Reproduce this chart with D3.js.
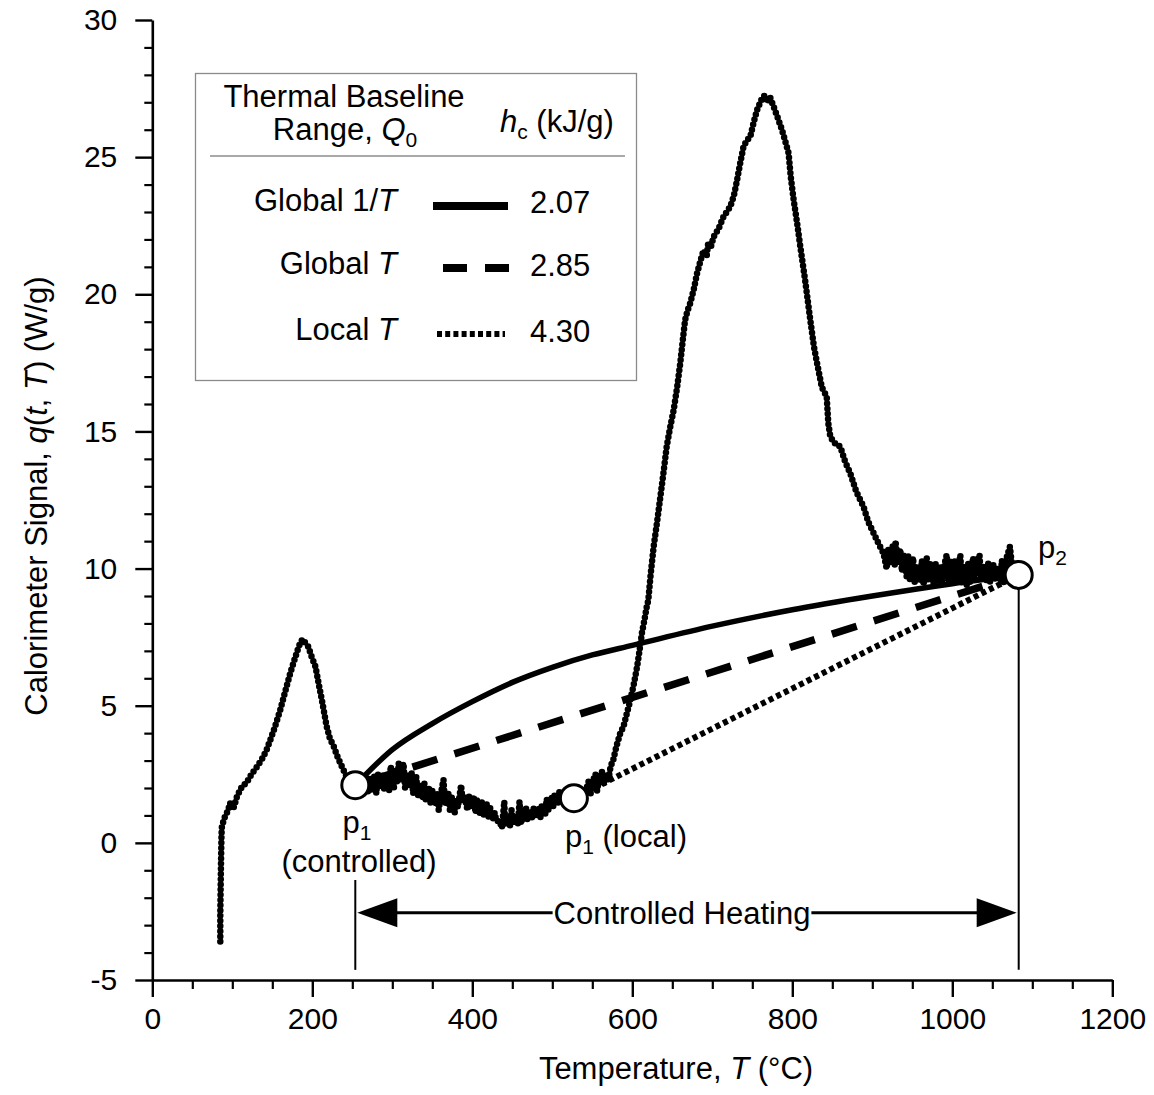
<!DOCTYPE html>
<html><head><meta charset="utf-8">
<script src="https://cdn.jsdelivr.net/npm/d3@7"></script>
<style>
html,body{margin:0;padding:0;background:#fff;}
svg{display:block;font-family:"Liberation Sans",Arial,Helvetica,sans-serif;}
</style></head><body>
<svg id="chart" width="1154" height="1095"></svg>
<script>
// ---- data (T in °C, q in W/g) ----
const signalData = [
[85,-3.6],[85,-2.6],[85.5,-1.5],[86,-0.5],[86.5,0.3],[87,0.6],[90,0.9],[95,1.2],[97,1.45],[102,1.3],[106,1.7],[112,2.05],[118,2.2],[124,2.5],[131,2.78],[138,3.1],[143,3.4],[147.5,3.75],[153,4.2],[160,4.85],[166,5.5],[172.5,6.19],[178,6.7],[183,7.15],[186,7.35],[188,7.42],[191,7.3],[195,7.15],[199,6.8],[204,6.42],[208,5.8],[212,5.2],[218,4.24],[222,3.8],[227,3.5],[232,3.1],[237,2.78],[243,2.4],[248,2.2],[254,2.1],
[256,2.5],[258,1.8],[262,2.5],[264,1.8],[266,2.5],[270,1.8],[272,2.4],[274,1.9],[278,2.5],[280,1.8],[282,2.5],[286,2.0],[288,2.5],[290,1.9],[294,2.5],[296,1.9],[298,2.8],[302,2.0],[304,2.7],[306,2.2],[308,2.9],[310,2.3],[314,2.9],[316,2.0],[318,2.5],[322,2.1],[324,2.6],[326,1.8],[330,2.4],[332,1.7],[334,2.1],[338,1.6],[340,2.2],[342,1.5],[346,2.0],[348,1.4],[350,1.9],[354,1.4],[356,1.8],[358,1.2],[362,2.0],[364,2.3],[366,1.4],[370,1.8],[372,1.2],[374,1.7],[378,1.1],[380,1.6],[382,1.3],[386,2.1],[388,1.5],[390,1.7],[394,1.2],[396,1.7],[398,1.3],[402,1.7],[404,1.1],[406,1.6],[410,1.0],[412,1.5],[414,1.0],[418,1.4],[420,0.9],[422,1.3],[426,0.9],[428,1.1],[430,0.8],[434,0.8],[437,0.55],[440,1.5],[441,0.7],[443,1.0],[447,0.6],[449,1.2],[451,0.7],[455,1.0],[457,0.7],[459,1.5],[461,0.7],[463,1.0],[467,1.3],[469,0.8],[471,1.2],[475,0.9],[477,1.3],[479,1.0],[483,1.3],[485,0.9],[487,1.4],[491,1.0],[493,1.6],[495,1.2],[499,1.7],[501,1.3],[503,1.8],[507,1.4],[509,1.9],[511,1.5],[515,1.8],[520,1.5],[527,1.7],[533,1.4],[538,2.0],[540,1.6],[542,1.9],[546,2.3],[548,1.8],[550,2.2],[554,2.5],[556,1.9],[558,2.3],[562,2.6],[564,2.1],[566,2.5],[570,2.3],[573,2.8],[576,3.0],
[580,3.5],[585,4.0],[589,4.24],[593,4.7],[597.5,5.2],[602,5.8],[606,6.42],[609,7.0],[612,7.65],[615,8.1],[618,8.6],[620,8.85],[623,9.8],[626.7,10.8],[631,11.7],[635,12.6],[639,13.5],[643,14.45],[647,15.1],[651.7,15.78],[656,16.6],[660,17.5],[663,18.3],[666,19.06],[669,19.4],[672.5,19.68],[677,20.2],[681,20.77],[685,21.2],[689,21.6],[693,21.4],[695,21.9],[698,21.7],[701.7,22.1],[708,22.4],[714,22.83],[718,23.0],[722.5,23.2],[727,23.6],[731,24.17],[735,24.8],[739,25.38],[743,25.6],[747.5,25.75],[752,26.3],[756,26.72],[760,27.0],[763,27.2],[766,27.25],[769,27.0],[772,27.2],[776.7,26.84],[781,26.5],[787,26.0],[791,25.6],[795.4,25.14],[798,24.3],[801.7,23.44],[806,22.6],[810,21.74],[816,20.52],[822.5,19.06],[827,18.1],[831,17.48],[837,16.6],[843,16.27],[845,15.3],[847.5,14.81],[852,14.6],[856,14.5],[860,14.45],[866,13.9],[872.5,13.47],[880,12.8],[889,12.26],[895,11.7],[901.7,11.29],[908,10.9],[914,10.56],[918,10.0],[920,10.7],[922,10.2],[926,10.9],[928,10.1],[929,11.0],[932,10.2],[935,10.7],[937,9.9],[939,10.5],[943,9.7],[945,10.5],[947,9.6],[951,10.4],[953,9.5],[956,10.1],[960,9.5],[962,10.3],[964,9.4],[968,10.4],[970,9.6],[972.5,10.2],[977,9.4],[979,10.2],[981,9.5],[985,10.1],[987,9.4],[989,10.0],[993,10.5],[995,9.6],[997,10.3],[1001,9.5],[1003,10.3],[1006,9.6],[1010,10.5],[1012,9.5],[1014,10.1],[1018,9.4],[1020,10.2],[1022,9.5],[1026,10.4],[1028,9.6],[1030,10.2],[1034,10.5],[1036,9.6],[1039,10.1],[1043,9.5],[1045,10.2],[1047,9.5],[1051,10.2],[1053,9.6],[1056,10.0],[1060,9.6],[1062,10.3],[1064,9.5],[1068,10.4],[1072,10.8],[1075,10.0],[1078,9.8],[1082,9.75]
];
const p1Controlled = [253.75, 2.1];
const p1Local = [527, 1.63];
const p2 = [1083, 9.77];
// baseline curves
const globalInvT = [[253.75,2.1],[300,3.4],[350,4.35],[400,5.15],[450,5.85],[500,6.4],[550,6.85],[600,7.2],[700,7.9],[800,8.5],[900,9.0],[1000,9.45],[1083,9.77]];
const globalT = [p1Controlled, p2];
const localT = [p1Local, p2];
// legend
const legendNames = ["Global 1/", "Global ", "Local "];   // followed by italic T
const legendValues = ["2.07", "2.85", "4.30"];
const legendStyles = ["solid", "dashed", "dotted"];
// axes
const xTicks = [0, 200, 400, 600, 800, 1000, 1200];
const yTicks = [-5, 0, 5, 10, 15, 20, 25, 30];

const svg = d3.select("#chart");
const x = d3.scaleLinear().domain([0, 1200]).range([152.3, 1112.3]);
const y = d3.scaleLinear().domain([-5, 30]).range([980, 20]);

// axes: minor ticks first
const xMinor = d3.range(0, 1201, 50).filter(v => !xTicks.includes(v));
const yMinor = d3.range(-5, 31, 1).filter(v => !yTicks.includes(v));
svg.append("g").attr("transform", `translate(0,${y(-5)})`)
  .call(d3.axisBottom(x).tickValues(xMinor).tickSize(9).tickSizeOuter(0).tickFormat(""))
  .call(g => g.select(".domain").remove())
  .selectAll("line").attr("stroke", "#000").attr("stroke-width", 2.2);
svg.append("g").attr("transform", `translate(${x(0)},0)`)
  .call(d3.axisLeft(y).tickValues(yMinor).tickSize(8).tickSizeOuter(0).tickFormat(""))
  .call(g => g.select(".domain").remove())
  .selectAll("line").attr("stroke", "#000").attr("stroke-width", 2.2);

const gx = svg.append("g").attr("transform", `translate(0,${y(-5)})`)
  .call(d3.axisBottom(x).tickValues(xTicks).tickSize(17).tickSizeOuter(0).tickPadding(11).tickFormat(d => String(d)));
const gy = svg.append("g").attr("transform", `translate(${x(0)},0)`)
  .call(d3.axisLeft(y).tickValues(yTicks).tickSize(17).tickSizeOuter(0).tickPadding(18).tickFormat(d => String(d)));
[gx, gy].forEach(g => {
  g.select(".domain").attr("stroke", "#000").attr("stroke-width", 2.6);
  g.selectAll(".tick line").attr("stroke", "#000").attr("stroke-width", 2.4);
  g.selectAll("text").attr("font-size", 30).attr("fill", "#000")
    .attr("font-family", '"Liberation Sans",Arial,Helvetica,sans-serif');
});

// axis titles
const xt = svg.append("text").attr("x", 676).attr("y", 1079).attr("text-anchor", "middle")
  .attr("font-size", 31);
xt.append("tspan").text("Temperature, ");
xt.append("tspan").attr("font-style", "italic").text("T");
xt.append("tspan").text(" (°C)");

const yt = svg.append("text").attr("transform", "translate(47,496) rotate(-90)")
  .attr("text-anchor", "middle").attr("font-size", 31);
yt.append("tspan").text("Calorimeter Signal, ");
yt.append("tspan").attr("font-style", "italic").text("q");
yt.append("tspan").text("(");
yt.append("tspan").attr("font-style", "italic").text("t");
yt.append("tspan").text(", ");
yt.append("tspan").attr("font-style", "italic").text("T");
yt.append("tspan").text(") (W/g)");

// measured signal (dense dots)
const line = d3.line().x(d => x(d[0])).y(d => y(d[1]));
svg.append("path").datum(signalData).attr("d", line)
  .attr("fill", "none").attr("stroke", "#000").attr("stroke-width", 6.5)
  .attr("stroke-linecap", "round").attr("stroke-linejoin", "round")
  .attr("stroke-dasharray", "0 5.2");

// baselines
const curve = d3.line().x(d => x(d[0])).y(d => y(d[1])).curve(d3.curveMonotoneX);
svg.append("path").datum(globalInvT).attr("d", curve)
  .attr("fill", "none").attr("stroke", "#000").attr("stroke-width", 5.5);
svg.append("path").datum(globalT).attr("d", line)
  .attr("fill", "none").attr("stroke", "#000").attr("stroke-width", 7.5)
  .attr("stroke-dasharray", "26 18").attr("stroke-dashoffset", -16);
svg.append("path").datum(localT).attr("d", line)
  .attr("fill", "none").attr("stroke", "#000").attr("stroke-width", 6)
  .attr("stroke-dasharray", "5 3.5").attr("stroke-dashoffset", -14);

// controlled heating markers
const qBottom = -4.63, qArrow = -2.55;
svg.append("line").attr("x1", x(p1Controlled[0])).attr("x2", x(p1Controlled[0]))
  .attr("y1", 880).attr("y2", y(qBottom)).attr("stroke", "#000").attr("stroke-width", 2);
svg.append("line").attr("x1", x(p2[0])).attr("x2", x(p2[0]))
  .attr("y1", y(p2[1])).attr("y2", y(qBottom)).attr("stroke", "#000").attr("stroke-width", 2);

// points
[p1Controlled, p1Local, p2].forEach(p => {
  svg.append("circle").attr("cx", x(p[0])).attr("cy", y(p[1])).attr("r", 13.5)
    .attr("fill", "#fff").attr("stroke", "#000").attr("stroke-width", 3);
});

// arrow
const ay = y(qArrow);
const lx = x(p1Controlled[0]) + 2, rx = x(p2[0]) - 2;
const ht = svg.append("text").attr("x", 682).attr("y", ay + 11).attr("text-anchor", "middle")
  .attr("font-size", 31).text("Controlled Heating");
const bb = ht.node().getBBox();
svg.append("path").attr("d", `M${lx},${ay}L${lx+40},${ay-14.5}L${lx+40},${ay+14.5}Z`).attr("fill", "#000");
svg.append("path").attr("d", `M${rx},${ay}L${rx-40},${ay-14.5}L${rx-40},${ay+14.5}Z`).attr("fill", "#000");
svg.append("line").attr("x1", lx + 38).attr("x2", bb.x - 1).attr("y1", ay).attr("y2", ay)
  .attr("stroke", "#000").attr("stroke-width", 3);
svg.append("line").attr("x1", bb.x + bb.width + 1).attr("x2", rx - 38).attr("y1", ay).attr("y2", ay)
  .attr("stroke", "#000").attr("stroke-width", 3);

// point labels
function pLabel(xp, yp, sub, rest, anchor) {
  const t = svg.append("text").attr("x", xp).attr("y", yp).attr("font-size", 31)
    .attr("text-anchor", anchor || "start");
  t.append("tspan").text("p");
  t.append("tspan").attr("font-size", 21).attr("dy", 7).text(sub);
  if (rest) t.append("tspan").attr("dy", -7).text(rest);
  return t;
}
pLabel(357, 833, "1", null, "middle");
svg.append("text").attr("x", 359).attr("y", 872).attr("text-anchor", "middle")
  .attr("font-size", 31).text("(controlled)");
pLabel(565, 847, "1", " (local)");
pLabel(1038, 558, "2", null);

// legend
svg.append("rect").attr("x", 195.5).attr("y", 73.5).attr("width", 441).attr("height", 307)
  .attr("fill", "#fff").attr("stroke", "#8a8a8a").attr("stroke-width", 1.3);
svg.append("text").attr("x", 344).attr("y", 107).attr("text-anchor", "middle")
  .attr("font-size", 31).text("Thermal Baseline");
const rq = svg.append("text").attr("x", 345).attr("y", 140).attr("text-anchor", "middle").attr("font-size", 31);
rq.append("tspan").text("Range, ");
rq.append("tspan").attr("font-style", "italic").text("Q");
rq.append("tspan").attr("font-size", 21).attr("dy", 7).text("0");
const hc = svg.append("text").attr("x", 500).attr("y", 132).attr("font-size", 31);
hc.append("tspan").attr("font-style", "italic").text("h");
hc.append("tspan").attr("font-size", 21).attr("dy", 7).text("c");
hc.append("tspan").attr("dy", -7).text(" (kJ/g)");
svg.append("line").attr("x1", 210).attr("x2", 625).attr("y1", 156).attr("y2", 156)
  .attr("stroke", "#555").attr("stroke-width", 1.2);

const rowY = [211, 274, 340];
legendNames.forEach((nm, i) => {
  const t = svg.append("text").attr("x", 397).attr("y", rowY[i]).attr("text-anchor", "end").attr("font-size", 31);
  t.append("tspan").text(nm);
  t.append("tspan").attr("font-style", "italic").text("T");
  svg.append("text").attr("x", 530).attr("y", rowY[i] + 2).attr("font-size", 31).text(legendValues[i]);
  const ly = rowY[i] - 5 - (i === 0 ? 0 : 1);
  const l = svg.append("line").attr("y1", ly).attr("y2", ly).attr("stroke", "#000");
  if (legendStyles[i] === "solid") l.attr("x1", 433).attr("x2", 508).attr("stroke-width", 8);
  if (legendStyles[i] === "dashed") l.attr("x1", 443).attr("x2", 509).attr("stroke-width", 8).attr("stroke-dasharray", "24 18");
  if (legendStyles[i] === "dotted") l.attr("x1", 437).attr("x2", 505).attr("stroke-width", 6).attr("stroke-dasharray", "5 3.2");
});
</script>
</body></html>
